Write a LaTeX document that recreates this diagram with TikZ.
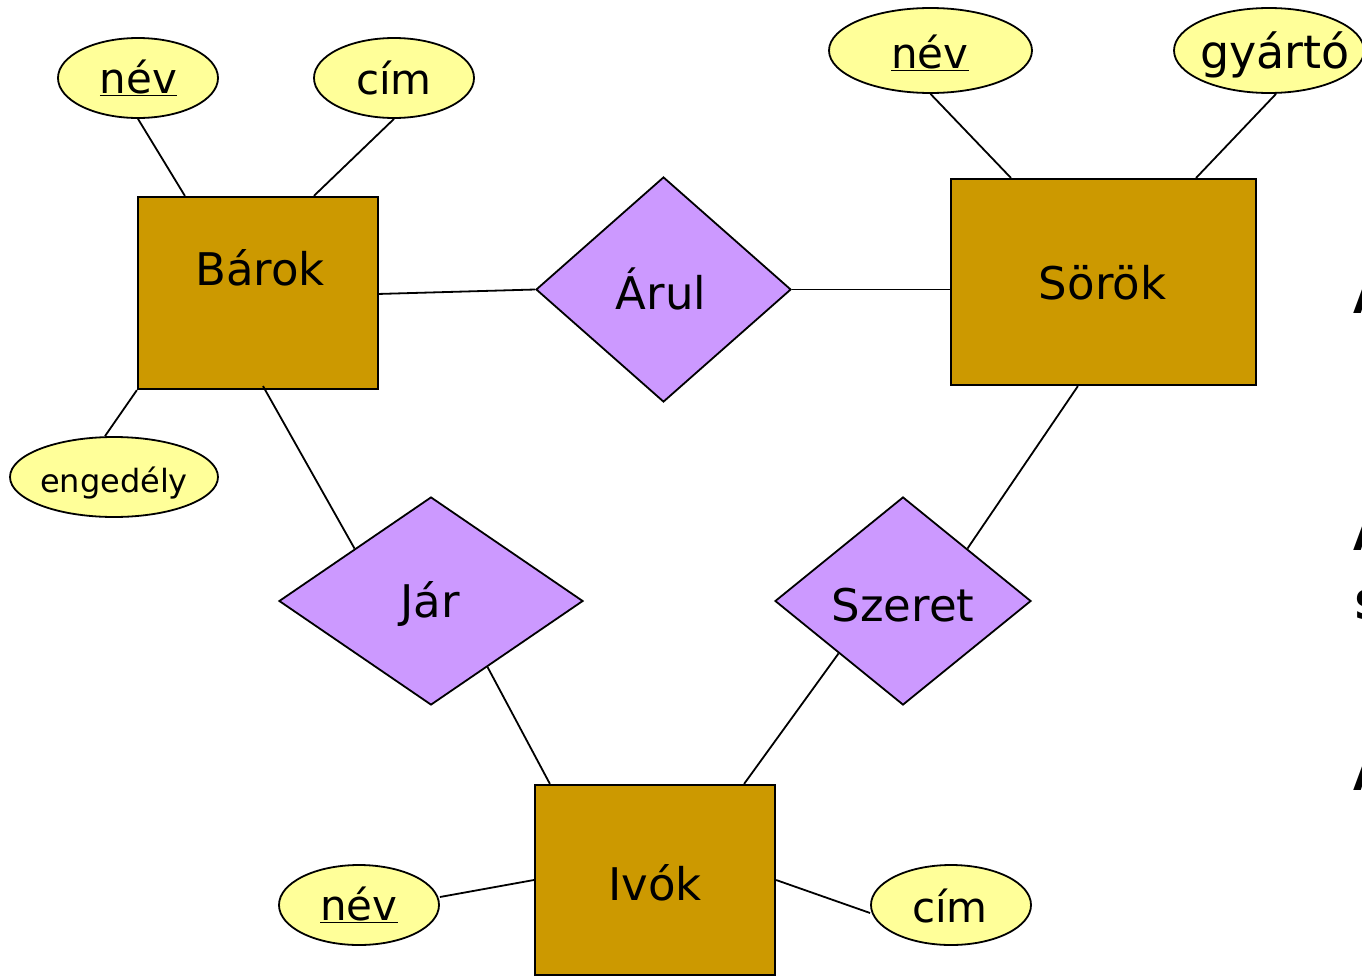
\documentclass[tikz,border=0pt]{standalone}
\usepackage{fontspec}
\setmainfont{DejaVu Sans}
\usetikzlibrary{shapes.geometric,calc}
\definecolor{boxfill}{HTML}{CC9900}
\definecolor{diafill}{HTML}{CC99FF}
\definecolor{ellfill}{HTML}{FFFF99}
\tikzset{
  entity/.style={draw=black,line width=2.2pt,fill=boxfill,rectangle,inner sep=0pt},
  rel/.style={draw=black,line width=1.8pt,fill=diafill,diamond,inner sep=0pt},
  attr/.style={draw=black,line width=1.8pt,fill=ellfill,ellipse,inner sep=0pt},
  conn/.style={draw=black,line width=1.8pt},
  bigT/.style={anchor=base,inner sep=0pt,font=\fontsize{45}{54}\selectfont},
  attT/.style={anchor=base,inner sep=0pt,font=\fontsize{42}{50}\selectfont},
  edgeT/.style={anchor=base west,inner sep=0pt,font=\fontsize{40}{48}\selectfont\bfseries}
}
\begin{document}
\begin{tikzpicture}[x=1pt,y=-1pt]
\clip (0,0) rectangle (1362,977);
\fill[white] (0,0) rectangle (1362,977);
% entities
\node[entity,minimum width=240,minimum height=192] (barok) at (258,293) {};
\node[entity,minimum width=305,minimum height=206] (sorok) at (1103.5,282) {};
\node[entity,minimum width=240,minimum height=190] (ivok) at (655,880) {};
% relationships
\node[rel,minimum width=255,minimum height=225] (arul) at (663.5,289.5) {};
\node[rel,minimum width=304,minimum height=208] (jar) at (431,601) {};
\node[rel,minimum width=256,minimum height=208] (szeret) at (903,601) {};
% attributes
\node[attr,minimum width=160,minimum height=80] (nevA) at (138,78) {};
\node[attr,minimum width=160,minimum height=80] (cimA) at (394,78) {};
\node[attr,minimum width=208,minimum height=80] (eng) at (114,477) {};
\node[attr,minimum width=203,minimum height=85] (nevS) at (930.5,50.5) {};
\node[attr,minimum width=190,minimum height=85] (gyarto) at (1269,50.5) {};
\node[attr,minimum width=160,minimum height=80] (nevI) at (359,905) {};
\node[attr,minimum width=160,minimum height=80] (cimI) at (951,905) {};
% texts
\node[bigT] (barokT) at (260,285) {Bárok};
\node[bigT] (sorokT) at (1102.5,299) {Sörök};
\node[bigT] (ivokT) at (655,900) {Ivók};
\node[bigT] (arulT) at (661,309) {Árul};
\node[bigT] (jarT) at (430,617) {Jár};
\node[bigT] (szeretT) at (903,621) {Szeret};
\node[attT] (nevAT) at (138.5,93) {\underline{név}};
\node[attT] (cimAT) at (394,94) {cím};
\node[attT,font=\fontsize{32}{38}\selectfont] (engT) at (114,492) {engedély};
\node[attT] (nevST) at (930,68) {\underline{név}};
\node[attT,font=\fontsize{46}{54}\selectfont] (gyartoT) at (1275,68) {gyártó};
\node[attT] (nevIT) at (359,920) {\underline{név}};
\node[attT] (cimIT) at (950,922) {cím};
% partial texts at the right edge
\node[edgeT] (e1) at (1353,313) {A};
\node[edgeT] (e2) at (1353,550) {A};
\node[edgeT] (e3) at (1354,619) {S};
\node[edgeT] (e4) at (1353,790) {A};
% connectors
\draw[conn] (nevA.south) -- ([xshift=48pt]barok.north west);
\draw[conn] (cimA.south) -- ([xshift=177pt]barok.north west);
\draw[conn] ($(eng.north)+(-9,0)$) -- (barok.south west);
\draw[conn] ($(barok.east)+(-2,1)$) -- (arul.west);
\draw[conn] (arul.east) -- (sorok.west |- arul.east);
\draw[conn] (nevS.south) -- ([xshift=61pt]sorok.north west);
\draw[conn] ($(gyarto.south)+(7,0)$) -- ([xshift=-61pt]sorok.north east);
\draw[conn] ($(barok.south)+(5,-4)$) -- (jar.north west);
\draw[conn] ($(jar.south)!0.37!(jar.east)$) -- ([xshift=16pt]ivok.north west);
\draw[conn] ($(sorok.south west)+(128,0)$) -- (szeret.north east);
\draw[conn] (szeret.south west) -- ([xshift=-32pt]ivok.north east);
\draw[conn] ($(nevI.east)+(0,-8)$) -- (ivok.west);
\draw[conn] (ivok.east) -- ($(cimI.west)+(0,8)$);
\end{tikzpicture}
\end{document}
